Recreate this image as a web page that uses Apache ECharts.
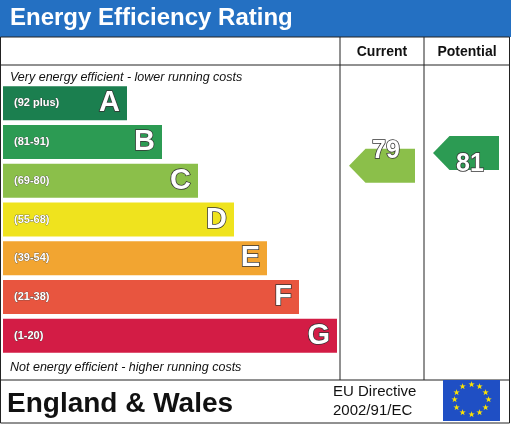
<!DOCTYPE html><html><head><meta charset="utf-8">
<script src="https://cdn.jsdelivr.net/npm/echarts@6/dist/echarts.min.js"></script>
<style>body{margin:0}#c{width:511px;height:424px}</style></head><body><div id="c"></div><script>
const letters=['A','B','C','D','E','F','G'];
const ranges=['(92 plus)','(81-91)','(69-80)','(55-68)','(39-54)','(21-38)','(1-20)'];
const barLengths=[124,159,195,231,264,296,334];
const colors=['#1b7f4f','#2c9b53','#8bbf4a','#efe31e','#f2a531','#e8553f','#d31c45'];
const currentValue=79, currentBand=2, currentX=379;
const potentialValue=81, potentialBand=1, potentialX=463;
const chart=echarts.init(document.getElementById('c'));
const arrowPath='path://M0,50 L25,0 L100,0 L100,100 L25,100 Z';
const numLabel={show:true,position:'inside',color:'#fff',fontSize:25,fontWeight:'bold',fontFamily:'Liberation Sans',textBorderColor:'#333',textBorderWidth:1.5,offset:[4,0]};
const stars=[];
for(let i=0;i<12;i++){const a=i*Math.PI/6;stars.push({type:'text',style:{text:'★',x:471+17*Math.sin(a),y:400-15*Math.cos(a),fill:'#ffe500',fontSize:8,align:'center',verticalAlign:'middle'}});}
const L=(x1,y1,x2,y2)=>({type:'line',shape:{x1,y1,x2,y2},style:{stroke:'#222',lineWidth:1}});
chart.setOption({animation:false,
grid:{left:3,right:8,top:84,height:271},
xAxis:{type:'value',min:0,max:500,show:false},
yAxis:{type:'category',data:letters,inverse:true,show:false},
series:[
{type:'bar',barWidth:34,data:barLengths.map((v,i)=>({value:v,itemStyle:{color:colors[i]}})),
 label:{show:true,position:'insideRight',formatter:p=>letters[p.dataIndex],color:'#fff',fontSize:29,fontWeight:'bold',fontFamily:'Liberation Sans',textBorderColor:'#333',textBorderWidth:1.5,offset:[-2,0]}},
{type:'bar',barWidth:34,barGap:'-100%',data:barLengths.map(v=>v),itemStyle:{color:'transparent'},
 label:{show:true,position:'insideLeft',formatter:p=>ranges[p.dataIndex],color:'#fff',fontSize:11,fontWeight:'bold',fontFamily:'Liberation Sans',textBorderColor:'#444',textBorderWidth:0.6,offset:[6,0]}},
{type:'scatter',symbol:arrowPath,symbolSize:[66,34],symbolOffset:[0,-15],data:[[currentX,letters[currentBand]]],itemStyle:{color:colors[2],opacity:1},label:Object.assign({},numLabel,{formatter:String(currentValue),offset:[4,-15]}),z:5},
{type:'scatter',symbol:arrowPath,symbolSize:[66,34],symbolOffset:[0,11],data:[[potentialX,letters[potentialBand]]],itemStyle:{color:colors[1],opacity:1},label:Object.assign({},numLabel,{formatter:String(potentialValue),offset:[4,11]}),z:5}
],
graphic:[
{type:'rect',shape:{x:0,y:0,width:511,height:37},style:{fill:'#2470c2'}},
{type:'text',style:{text:'Energy Efficiency Rating',x:10,y:18,verticalAlign:'middle',fill:'#fff',fontSize:24,fontWeight:'bold',fontFamily:'Liberation Sans'}},
{type:'rect',shape:{x:0.5,y:37,width:509,height:386},style:{fill:'none',stroke:'#222',lineWidth:1}},
L(0,65,510,65),L(340,37,340,380),L(424,37,424,380),L(0,380,510,380),
{type:'text',style:{text:'Current',x:382,y:52,align:'center',verticalAlign:'middle',fontSize:14,fontWeight:'bold',fontFamily:'Liberation Sans',fill:'#111'}},
{type:'text',style:{text:'Potential',x:467,y:52,align:'center',verticalAlign:'middle',fontSize:14,fontWeight:'bold',fontFamily:'Liberation Sans',fill:'#111'}},
{type:'text',style:{text:'Very energy efficient - lower running costs',x:10,y:78,verticalAlign:'middle',fontSize:12.5,fontStyle:'italic',fontFamily:'Liberation Sans',fill:'#111'}},
{type:'text',style:{text:'Not energy efficient - higher running costs',x:10,y:368,verticalAlign:'middle',fontSize:12.5,fontStyle:'italic',fontFamily:'Liberation Sans',fill:'#111'}},
{type:'text',style:{text:'England & Wales',x:7,y:404,verticalAlign:'middle',fontSize:28,fontWeight:'bold',fontFamily:'Liberation Sans',fill:'#111'}},
{type:'text',style:{text:'EU Directive\n2002/91/EC',x:333,y:401,verticalAlign:'middle',fontSize:15,lineHeight:19,fontFamily:'Liberation Sans',fill:'#111'}},
{type:'rect',shape:{x:443,y:380,width:57,height:41},style:{fill:'#1f4fc4'}}
].concat(stars)
});
</script></body></html>
